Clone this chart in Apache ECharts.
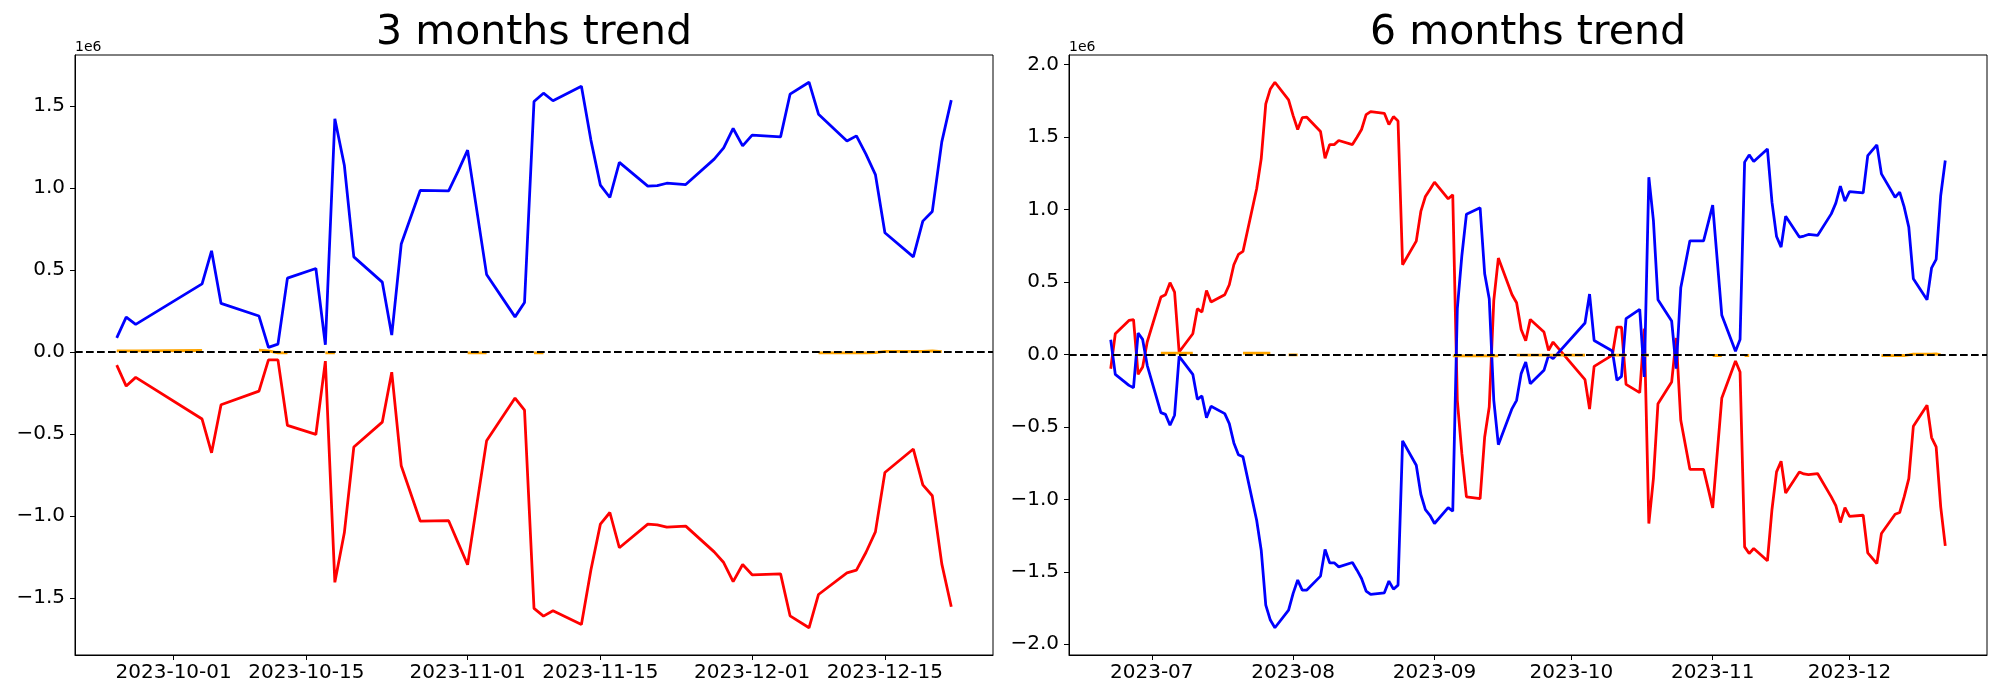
<!DOCTYPE html>
<html>
<head>
<meta charset="utf-8">
<script src="https://cdn.jsdelivr.net/npm/echarts@6/dist/echarts.min.js"></script>
<style>html,body{margin:0;padding:0;background:#fff}#c{width:2000px;height:700px}</style>
</head>
<body>
<div id="c"></div>
<script>
// ---------- DATA (values in units of 1e6) ----------
const dates3m = ['2023-09-25','2023-09-26','2023-09-27',
  '2023-10-04','2023-10-05','2023-10-06','2023-10-10','2023-10-11','2023-10-12','2023-10-13',
  '2023-10-16','2023-10-17','2023-10-18','2023-10-19','2023-10-20','2023-10-23','2023-10-24','2023-10-25','2023-10-27',
  '2023-10-30','2023-10-31','2023-11-01','2023-11-03',
  '2023-11-06','2023-11-07','2023-11-08','2023-11-09','2023-11-10','2023-11-13','2023-11-14','2023-11-15','2023-11-16','2023-11-17',
  '2023-11-20','2023-11-21','2023-11-22','2023-11-24','2023-11-27','2023-11-28','2023-11-29','2023-11-30',
  '2023-12-01','2023-12-04','2023-12-05','2023-12-07','2023-12-08','2023-12-11','2023-12-12','2023-12-13','2023-12-14','2023-12-15',
  '2023-12-18','2023-12-19','2023-12-20','2023-12-21','2023-12-22'];
const blue3m = [0.087,0.213,0.169, 0.416,0.618,0.297, 0.220,0.029,0.049,0.451,
  0.510,0.045,1.423,1.140,0.581, 0.427,0.104,0.659,0.986, 0.984,1.104, 1.232,0.474,
  0.215,0.303,1.528,1.579,1.533, 1.622,1.293,1.018,0.943,1.157, 1.012,1.016,1.030,1.022,
  1.177,1.246,1.364,1.258, 1.323,1.313,1.573,1.646,1.451, 1.287,1.319,1.207,1.083,0.728,
  0.581,0.799,0.858,1.282,1.537];
const red3m = [-0.079,-0.207,-0.154, -0.408,-0.614,-0.321, -0.238,-0.047,-0.047,-0.447,
  -0.502,-0.055,-1.404,-1.102,-0.579, -0.427,-0.122,-0.693,-1.030, -1.028,-1.163, -1.297,-0.541,
  -0.280,-0.354,-1.563,-1.610,-1.577, -1.661,-1.329,-1.049,-0.978,-1.193, -1.049,-1.053,-1.067,-1.061,
  -1.218,-1.283,-1.400,-1.295, -1.358,-1.352,-1.608,-1.681,-1.478, -1.346,-1.329,-1.222,-1.096,-0.734,
  -0.591,-0.809,-0.876,-1.291,-1.553];
const orange3m = [0.008,0.007,0.008, 0.010,null,null, 0.012,0.008,-0.004,-0.004,
  null,-0.004,-0.004,null,null, null,null,null,null, null,null, -0.004,-0.004,
  null,null,-0.004,-0.004,null, null,null,null,null,null, null,null,null,null,
  null,null,null,null, null,null,null,null,-0.004, -0.005,-0.005,-0.005,-0.003,0.004,
  0.005,0.005,0.007,0.003,null];

const dates6m = ['2023-06-22','2023-06-23','2023-06-26','2023-06-27','2023-06-28','2023-06-29','2023-06-30',
  '2023-07-03','2023-07-04','2023-07-05','2023-07-06','2023-07-07','2023-07-10','2023-07-11','2023-07-12','2023-07-13','2023-07-14',
  '2023-07-17','2023-07-18','2023-07-19','2023-07-20','2023-07-21','2023-07-24','2023-07-25','2023-07-26','2023-07-27','2023-07-28','2023-07-31',
  '2023-08-01','2023-08-02','2023-08-03','2023-08-04','2023-08-07','2023-08-08','2023-08-09','2023-08-10','2023-08-11',
  '2023-08-14','2023-08-15','2023-08-16','2023-08-17','2023-08-18','2023-08-21','2023-08-22','2023-08-23','2023-08-24','2023-08-25',
  '2023-08-28','2023-08-29','2023-08-30','2023-08-31',
  '2023-09-01','2023-09-04','2023-09-05','2023-09-06','2023-09-07','2023-09-08','2023-09-11','2023-09-12','2023-09-13','2023-09-14','2023-09-15',
  '2023-09-18','2023-09-19','2023-09-20','2023-09-21','2023-09-22','2023-09-25','2023-09-26','2023-09-27',
  '2023-10-04','2023-10-05','2023-10-06','2023-10-10','2023-10-11','2023-10-12','2023-10-13',
  '2023-10-16','2023-10-17','2023-10-18','2023-10-19','2023-10-20','2023-10-23','2023-10-24','2023-10-25','2023-10-27','2023-10-30','2023-10-31',
  '2023-11-01','2023-11-03','2023-11-06','2023-11-07','2023-11-08','2023-11-09','2023-11-10','2023-11-13','2023-11-14','2023-11-15','2023-11-16','2023-11-17',
  '2023-11-20','2023-11-21','2023-11-22','2023-11-24','2023-11-27','2023-11-28','2023-11-29','2023-11-30',
  '2023-12-01','2023-12-04','2023-12-05','2023-12-07','2023-12-08','2023-12-11','2023-12-12','2023-12-13','2023-12-14','2023-12-15',
  '2023-12-18','2023-12-19','2023-12-20','2023-12-21','2023-12-22'];
const blue6m = [0.101,-0.138,-0.214,-0.230,0.147,0.103,-0.076,
  -0.402,-0.414,-0.489,-0.420,-0.014,-0.138,-0.310,-0.287,-0.437,-0.358,
  -0.409,-0.478,-0.611,-0.692,-0.707,-1.144,-1.351,-1.730,-1.833,-1.886,-1.764,
  -1.649,-1.557,-1.626,-1.626,-1.530,-1.346,-1.438,-1.438,-1.466,
  -1.436,-1.489,-1.546,-1.633,-1.656,-1.645,-1.564,-1.620,-1.592,-0.597,
  -0.765,-0.965,-1.071,-1.110,
  -1.167,-1.057,-1.082,0.315,0.682,0.967,1.011,0.556,0.384,-0.317,-0.623,
  -0.374,-0.317,-0.133,-0.053,-0.202,-0.110,-0.007,-0.030,
  0.216,0.416,0.096,0.023,-0.179,-0.152,0.246,
  0.310,-0.156,1.222,0.924,0.377,0.230,-0.099,0.459,0.783,0.783,0.905,
  1.029,0.269,0.021,0.103,1.326,1.376,1.330,1.417,1.050,0.813,0.740,0.953,
  0.809,0.816,0.827,0.820,0.969,1.043,1.160,1.057,
  1.123,1.114,1.371,1.445,1.245,1.084,1.119,1.015,0.878,0.521,
  0.377,0.597,0.655,1.096,1.337];
const red6m = [-0.099,0.142,0.234,0.239,-0.138,-0.087,0.085,
  0.395,0.411,0.494,0.430,0.016,0.142,0.315,0.292,0.441,0.361,
  0.411,0.480,0.618,0.689,0.710,1.142,1.349,1.728,1.831,1.877,1.755,
  1.647,1.551,1.633,1.636,1.537,1.353,1.447,1.447,1.475,
  1.447,1.498,1.551,1.654,1.675,1.663,1.585,1.640,1.610,0.618,
  0.781,0.986,1.089,1.137,
  1.188,1.073,1.100,-0.317,-0.685,-0.983,-0.995,-0.570,-0.363,0.372,0.664,
  0.411,0.356,0.172,0.094,0.241,0.154,0.028,0.085,
  -0.175,-0.377,-0.083,-0.005,0.188,0.188,-0.207,
  -0.264,0.177,-1.167,-0.857,-0.340,-0.191,0.113,-0.455,-0.793,-0.793,-0.925,
  -1.059,-0.301,-0.046,-0.122,-1.328,-1.374,-1.339,-1.424,-1.070,-0.811,-0.737,-0.956,
  -0.811,-0.825,-0.829,-0.822,-0.983,-1.043,-1.160,-1.057,
  -1.117,-1.110,-1.369,-1.443,-1.236,-1.103,-1.091,-0.982,-0.857,-0.496,
  -0.351,-0.574,-0.639,-1.052,-1.321];
const orange6m = [null,null,null,null,null,null,null,
  0.008,0.008,0.008,0.008,0.008,0.008,null,null,null,null,
  null,null,null,null,0.008,0.008,0.008,0.008,0.008,null,-0.004,
  -0.004,-0.004,null,null,null,null,null,null,null,
  null,null,null,null,null,null,null,null,null,null,
  null,null,null,null,
  null,null,-0.010,-0.010,-0.010,-0.010,-0.010,-0.010,-0.010,-0.010,-0.010,
  null,-0.006,-0.006,-0.006,-0.006,-0.006,-0.006,-0.006,
  -0.006,null,null,-0.005,-0.005,-0.005,-0.005,
  null,-0.005,-0.005,null,null,null,null,null,null,null,null,
  -0.008,-0.008,null,null,-0.008,-0.008,null,null,null,null,null,null,
  null,null,null,null,null,null,null,null,
  null,null,null,null,-0.009,-0.009,-0.009,-0.008,-0.004,0.002,
  0.002,0.002,0.003,-0.004,null];

const xTicks3m = ['2023-10-01','2023-10-15','2023-11-01','2023-11-15','2023-12-01','2023-12-15'];
const xTicks6m = ['2023-07-01','2023-08-01','2023-09-01','2023-10-01','2023-11-01','2023-12-01'];
const yTicks3m = [-1.5,-1.0,-0.5,0.0,0.5,1.0,1.5];
const yTicks6m = [-2.0,-1.5,-1.0,-0.5,0.0,0.5,1.0,1.5,2.0];
const yRange3m = [-1.847, 1.812];
const yRange6m = [-2.074, 2.065];

// ---------- helpers ----------
function ts(s){const p=s.split('-').map(Number);return Date.UTC(p[0],p[1]-1,p[2]);}
function pad(n){return n<10?'0'+n:''+n;}
const fmtDay = v => {const d=new Date(v);return d.getUTCFullYear()+'-'+pad(d.getUTCMonth()+1)+'-'+pad(d.getUTCDate());};
const fmtMonth = v => {const d=new Date(v);return d.getUTCFullYear()+'-'+pad(d.getUTCMonth()+1);};
const fmtY = v => (v<0?'\u2212':'')+Math.abs(v).toFixed(1);
function pairs(dates, vals){return dates.map((d,i)=>[ts(d), vals[i]==null?'-':vals[i]]);}
function xRange(dates){const a=ts(dates[0]),b=ts(dates[dates.length-1]);const m=(b-a)*0.05;return [a-m,b+m];}

const FONT='DejaVu Sans';
const BLACK='#000';

function xAxisCfg(i, dates, ticks, fmt){
  const r=xRange(dates); const tv=ticks.map(ts);
  return {type:'value', gridIndex:i, min:r[0], max:r[1], scale:true,
    splitLine:{show:false}, minorTick:{show:false},
    axisLine:{show:true,onZero:false,lineStyle:{color:BLACK,width:1}},
    axisTick:{show:true,inside:false,length:5,lineStyle:{color:BLACK,width:1},customValues:tv},
    axisLabel:{show:true,customValues:tv,formatter:fmt,color:BLACK,fontSize:20,fontFamily:FONT,margin:8,hideOverlap:false}};
}
function yAxisCfg(i, range, ticks){
  return {type:'value', gridIndex:i, min:range[0], max:range[1],
    splitLine:{show:false},
    axisLine:{show:true,onZero:false,lineStyle:{color:BLACK,width:1}},
    axisTick:{show:true,inside:false,length:5,lineStyle:{color:BLACK,width:1},customValues:ticks},
    axisLabel:{show:true,customValues:ticks,formatter:fmtY,color:BLACK,fontSize:20,fontFamily:FONT,margin:10}};
}
function lineSeries(i, data, color, z){
  return {type:'line', xAxisIndex:i, yAxisIndex:i, data:data, symbol:'none', showSymbol:false,
    connectNulls:false, z:z, lineStyle:{color:color,width:2.78}, itemStyle:{color:color}, animation:false};
}
function zeroLine(){
  return {silent:true, symbol:['none','none'], label:{show:false}, z:5,
    lineStyle:{color:BLACK,type:[7.7,3.3],width:2.1}, data:[{yAxis:0}], animation:false};
}

const chart = echarts.init(document.getElementById('c'), null, {renderer:'canvas'});
const o3 = lineSeries(0, pairs(dates3m, orange3m), '#ffa500', 3); o3.markLine = zeroLine();
const o6 = lineSeries(1, pairs(dates6m, orange6m), '#ffa500', 3); o6.markLine = zeroLine();
chart.setOption({
  animation:false,
  backgroundColor:'#fff',
  title:[
    {text:'3 months trend', left:534, top:13, textAlign:'center', padding:0,
     textStyle:{fontSize:41,fontWeight:'normal',fontFamily:FONT,color:BLACK}},
    {text:'6 months trend', left:1528, top:13, textAlign:'center', padding:0,
     textStyle:{fontSize:41,fontWeight:'normal',fontFamily:FONT,color:BLACK}},
    {text:'1e6', left:75, top:40, padding:0, textStyle:{fontSize:14,fontWeight:'normal',fontFamily:FONT,color:BLACK}},
    {text:'1e6', left:1069, top:40, padding:0, textStyle:{fontSize:14,fontWeight:'normal',fontFamily:FONT,color:BLACK}}
  ],
  grid:[
    {left:75, top:55, width:918, height:600, show:true, borderColor:BLACK, borderWidth:1, backgroundColor:'transparent', containLabel:false},
    {left:1069, top:55, width:918, height:600, show:true, borderColor:BLACK, borderWidth:1, backgroundColor:'transparent', containLabel:false}
  ],
  xAxis:[xAxisCfg(0, dates3m, xTicks3m, fmtDay), xAxisCfg(1, dates6m, xTicks6m, fmtMonth)],
  yAxis:[yAxisCfg(0, yRange3m, yTicks3m), yAxisCfg(1, yRange6m, yTicks6m)],
  series:[
    lineSeries(0, pairs(dates3m, red3m), '#ff0000', 2),
    lineSeries(0, pairs(dates3m, blue3m), '#0000ff', 2),
    o3,
    lineSeries(1, pairs(dates6m, red6m), '#ff0000', 2),
    lineSeries(1, pairs(dates6m, blue6m), '#0000ff', 2),
    o6
  ]
});
</script>
</body>
</html>
